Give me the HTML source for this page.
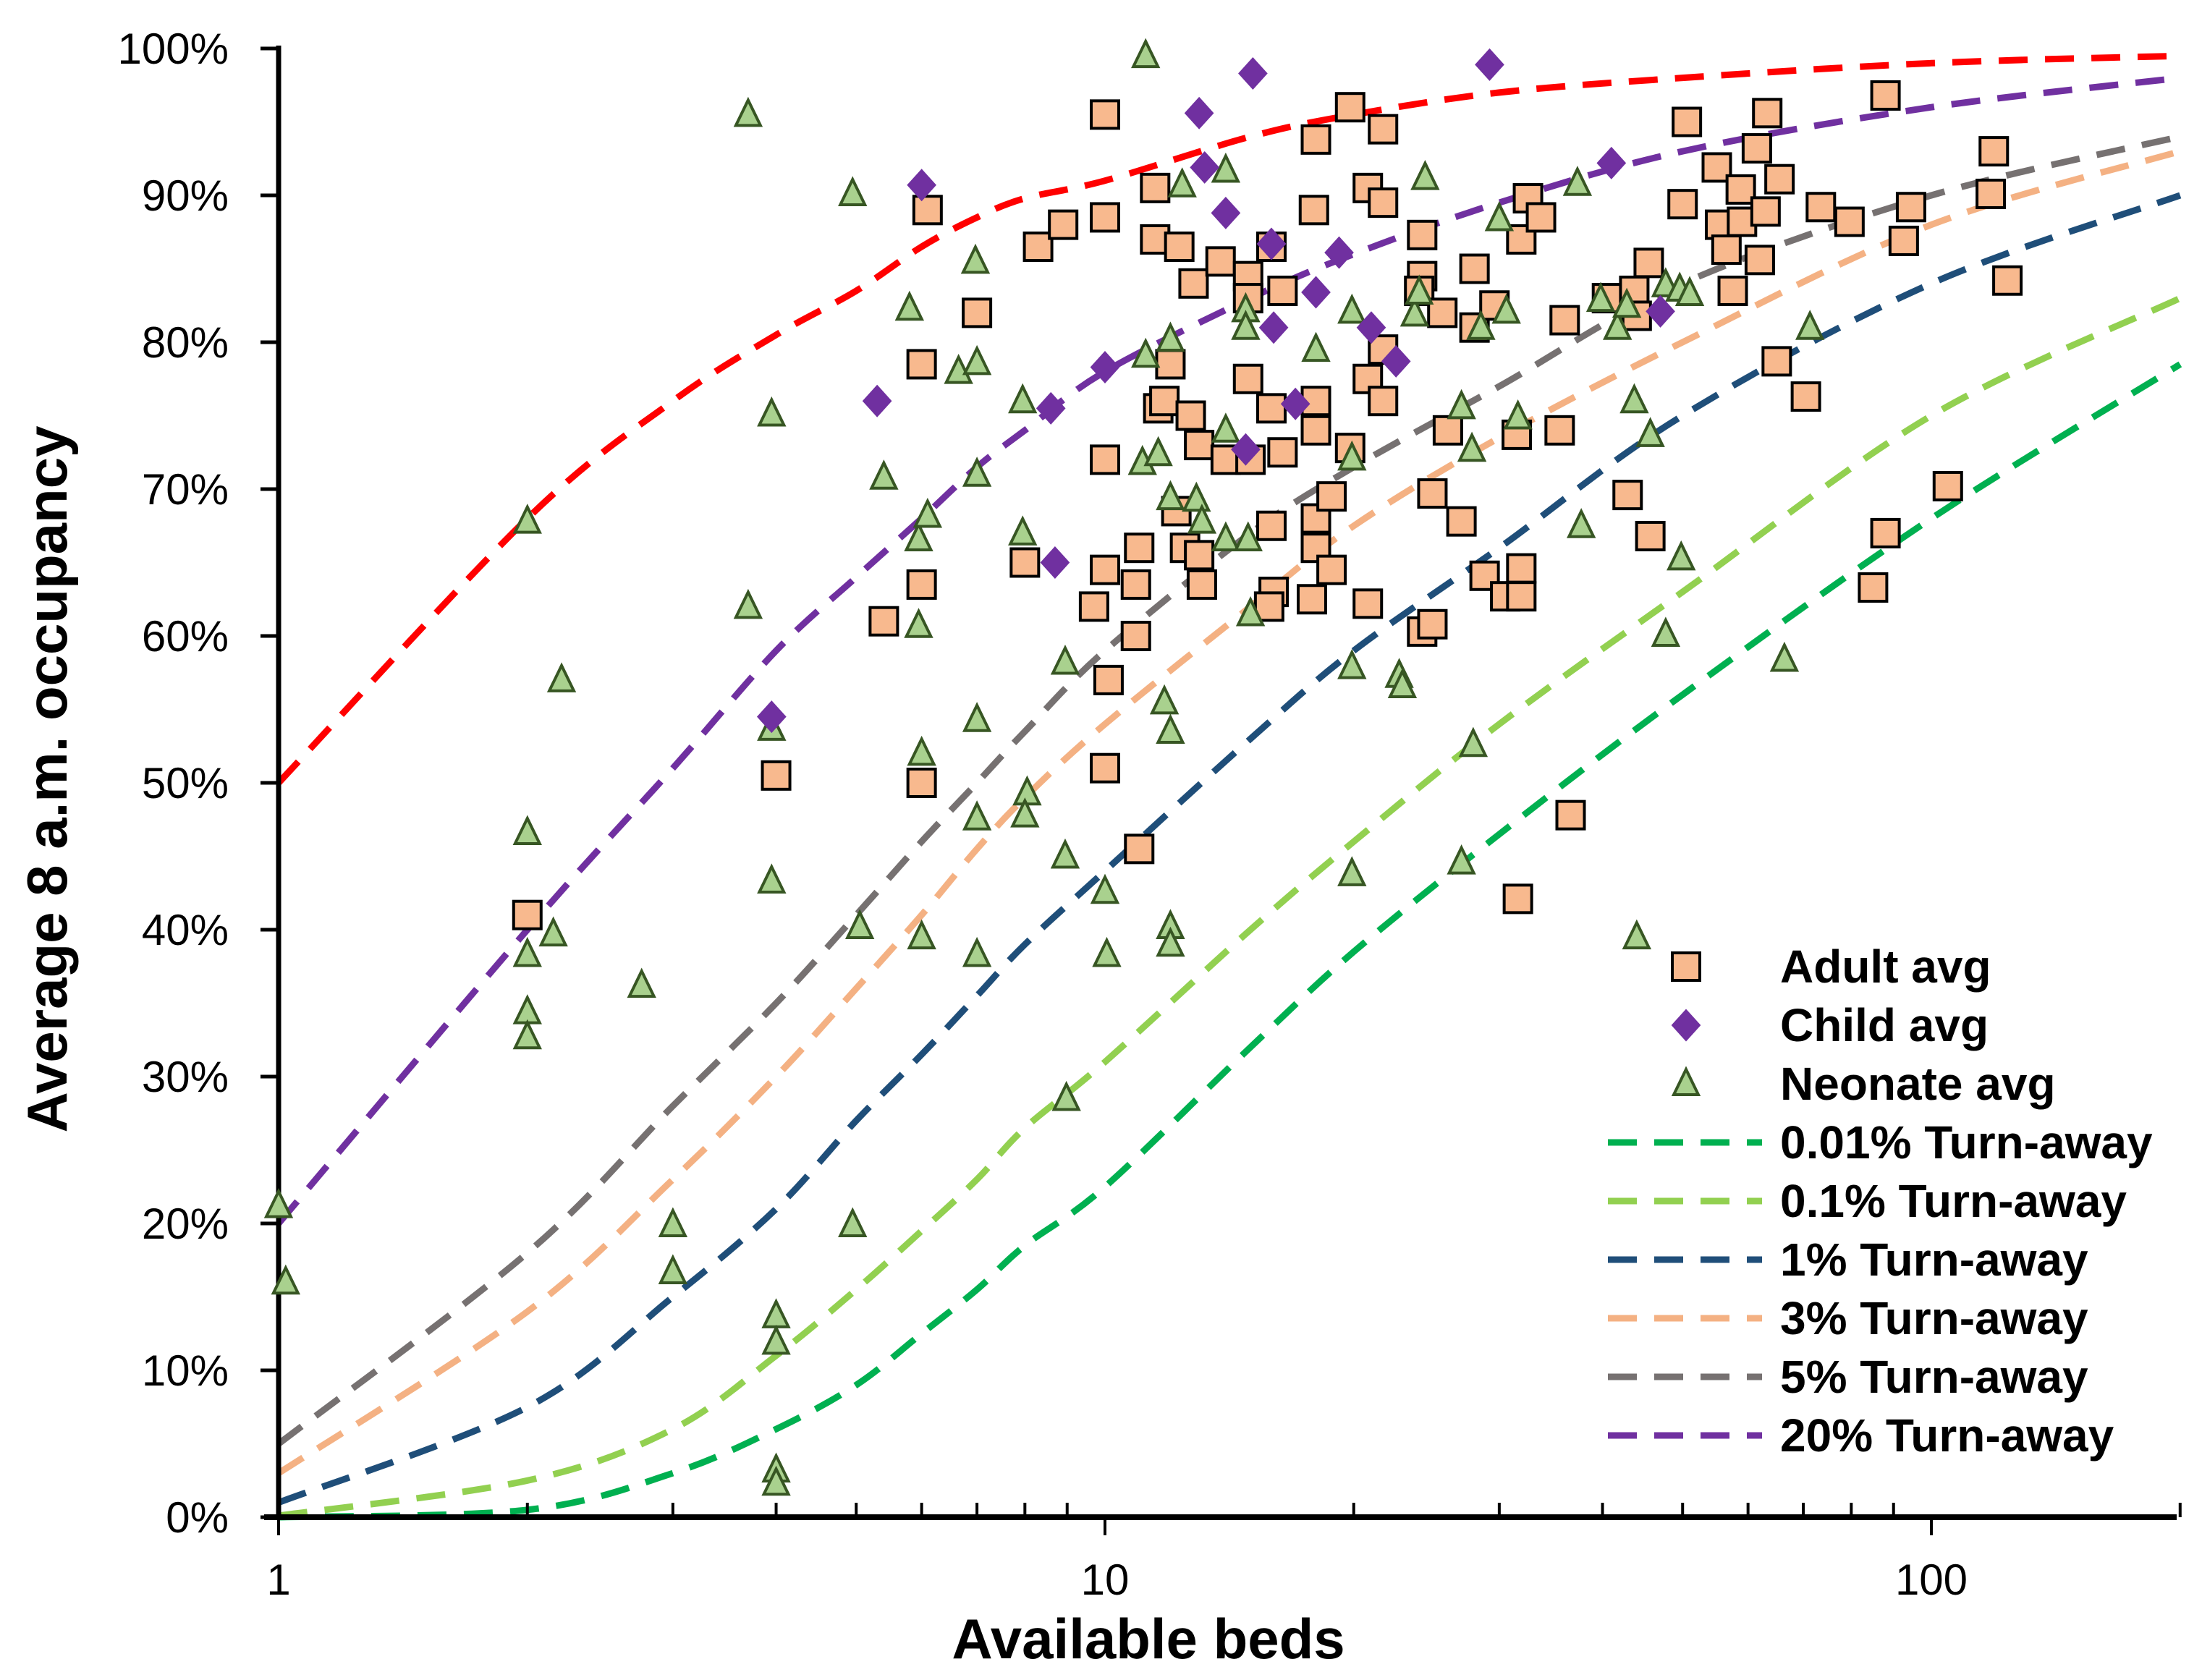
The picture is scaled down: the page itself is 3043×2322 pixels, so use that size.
<!DOCTYPE html>
<html><head><meta charset="utf-8"><style>
html,body{margin:0;padding:0;background:#fff;}
svg{display:block;font-family:"Liberation Sans",Calibri,sans-serif;}
</style></head><body>
<svg id="chart" width="3043" height="2322" viewBox="0 0 3043 2322" xmlns="http://www.w3.org/2000/svg">
<g id="curves"></g>
<g id="axes"></g>
<g id="points"></g>
<g id="legend"></g>
<text x="1587" y="2292" text-anchor="middle" font-size="78" font-weight="bold">Available beds</text>
<text transform="translate(92,1077) rotate(-90)" text-anchor="middle" font-size="78" font-weight="bold">Average 8 a.m. occupancy</text>
</svg>
<script>
const curveBeds=[1,2,3,4,5,6,7,8,10,15,20,30,50,100,200];
const curveRed=[50,68,76,80.5,83.5,86.5,88.5,89.8,91,94,95.5,97,98,99,99.5];
const curve20=[20,40,51,59,64,68,71.5,74,78,83,86,89.5,93,96,98];
const curve5=[5,18,28,35,41,46,50,53.5,59,67,71.5,77,84,90,94];
const curve3=[3,14,23,30,36,41,45.5,49,54,62,67.5,73.5,80,88,93];
const curve1=[1,7.5,15,21,27,31.5,35.5,39,44,53,59,66,75,84,90];
const curve01=[0.1,2.5,6,11,15.5,19.5,23,26.5,31,40,46,54,63,75,83];
const curve001=[0,0.5,3,6,9,12.5,15.5,18.5,22.5,32,38.5,46.5,56,68,78.5];
const yTicks=["0%","10%","20%","30%","40%","50%","60%","70%","80%","90%","100%"];
const xTicks=["1","10","100"];
const adultBeds=[2.0,4.0,5.4,6.0,6.0,6.0,6.1,7.0,8.0,8.3,8.9,10,10,10,10,9.7,10.1,10,11,10.9,10.9,11,11.5,11.5,11.6,12,11.8,12.3,12.2,12.5,12.7,12.8,13,13,13.1,13.8,14,14.9,14.9,15,14.9,15.9,15.9,15.9,16,15.8,16.4,16.4,18,17.9,18,18,18,18,17.8,18.8,18.8,19.8,19.8,20.8,20.8,20.8,21.7,21.7,21.7,21.7,24.2,24.2,24,24.9,24.2,24.9,25.6,26,27,28,28,28.8,29.6,30.5,31.5,31.9,31.9,31.9,31.6,32.5,33.7,36,35.5,36.6,40.5,42.9,43.7,44,45.5,45.7,50,50.6,55,55.5,56.5,57.5,58.8,59,61.5,62,63,63.3,65.5,65,70.5,73.5,79.6,88,92.6,94.5,88,85,104.7,119,118,123.6];
const adultOcc=[41,50.5,61,63.5,50,78.5,89,82,65,86.5,88,95.5,88.5,72,64.5,62,57,51,45.5,60,63.5,66,90.5,87,75.5,78.5,76,86.5,68.5,66,75,84,73,65.5,63.5,85.5,72,84.5,77.5,72,83,86.5,75.5,67.5,63,62,83.5,72.5,93.8,89,76,74,68,66,62.5,69.5,64.5,96,72.8,90.5,77.5,62.2,94.5,89.5,79.5,76,87.3,84.5,83.5,69.7,60.3,60.8,82,74,67.8,85,81,64.1,82.5,62.7,73.7,87,62.7,64.6,42.1,89.8,88.5,81.5,74,47.8,83,69.6,83.5,81.8,85.4,66.8,89.4,95,91.9,88,86.3,83.5,90.4,88.2,93.2,85.6,88.9,95.6,91.1,78.7,76.3,89.2,88.2,96.8,86.9,89.2,67,63.3,70.2,93,90.1,84.2];
const childBeds=[5.3,6.0,8.6,8.7,10,3.95,13,13.2,14,15.1,14.8,15.9,16,17,18,19.2,21,22.5,29.2,41,47];
const childOcc=[76,90.7,75.5,65,78.3,54.5,95.6,91.9,88.8,98.3,72.7,86.7,81,75.8,83.4,86.1,81,78.7,98.9,92.2,82.1];
const neoBeds=[1,1.02,3.7,3.7,3.95,3.95,3.95,4,4,4,4,2,2,2,2,2,2.15,2.2,2.75,3,3,4.95,5.05,4.95,5.4,5.8,5.95,6.1,5.95,6,6,6.65,6.97,7,7,7,7,7,7.95,7.95,8.05,8,8.95,8.95,8.98,10,10.05,11.2,11.2,11.1,11.6,12,11.8,12,12,12,12,12.4,12.9,13.1,14,14,14,14.8,14.8,14.9,15,18,19.9,19.9,19.9,19.9,22.7,22.9,23.7,24,24.4,27,27,27.8,27.9,28.5,30,30.6,31.6,37.3,37.7,39.8,41.7,42.8,43.7,44,45.7,47.7,47.7,49.6,49.8,51,66.4,71.3];
const neoOcc=[21.2,16,95.5,62,75.1,53.7,43.3,13.7,11.9,3.2,2.3,67.8,46.6,38.3,34.4,32.7,39.7,57,36.2,19.9,16.7,90.1,40.2,19.9,70.8,82.3,66.6,68.2,60.7,52,39.5,78,85.5,78.6,71,54.3,47.6,38.3,76,67,49.3,47.8,58.2,45,28.5,42.6,38.3,99.5,79.1,71.8,72.4,80.2,55.5,53.5,69.4,40.2,39,90.7,69.3,67.8,91.7,74,66.6,82.2,81,66.6,61.5,79.5,82.1,72.1,57.9,43.8,57.3,56.6,81.9,83.4,91.2,75.6,44.6,72.7,52.6,81,88.4,82.1,74.9,90.8,67.5,82.9,81,82.5,76,39.5,73.7,60.1,83.9,83.6,65.3,83.3,58.4,81];

const NS="http://www.w3.org/2000/svg";
const X0=385,DEC=1142,XMAX=3008,Y0=2097,YTOP=67;
function xs(b){return X0+Math.log10(b)*DEC;}
function ys(v){return Y0-(v/100)*(Y0-YTOP);}
function mk(tag,attrs,parent){const e=document.createElementNS(NS,tag);for(const k in attrs)e.setAttribute(k,attrs[k]);parent.appendChild(e);return e;}
function smooth(P){
  let d=`M${P[0][0].toFixed(1)},${P[0][1].toFixed(1)}`;
  for(let i=0;i<P.length-1;i++){
    const p0=P[Math.max(i-1,0)],p1=P[i],p2=P[i+1],p3=P[Math.min(i+2,P.length-1)];
    const c1=[p1[0]+(p2[0]-p0[0])/6,p1[1]+(p2[1]-p0[1])/6];
    const c2=[p2[0]-(p3[0]-p1[0])/6,p2[1]-(p3[1]-p1[1])/6];
    d+=` C${c1[0].toFixed(1)},${c1[1].toFixed(1)} ${c2[0].toFixed(1)},${c2[1].toFixed(1)} ${p2[0].toFixed(1)},${p2[1].toFixed(1)}`;
  }
  return d;
}

const curves=document.getElementById('curves');
const cdefs=[[curve001,'#00b050','curve-0.01pct'],[curve01,'#92d050','curve-0.1pct'],[curve1,'#1f4e79','curve-1pct'],[curve3,'#f4b183','curve-3pct'],[curve5,'#767171','curve-5pct'],[curve20,'#7030a0','curve-20pct'],[curveRed,'#ff0000','curve-red']];
cdefs.forEach(c=>{
  const P=curveBeds.map((b,i)=>[xs(b),ys(c[0][i])]);
  const p=mk('path',{d:smooth(P),fill:'none',stroke:c[1],'stroke-width':9,'stroke-dasharray':'40 24','stroke-linejoin':'round'},curves);
  
  
});

const axes=document.getElementById('axes');
mk('line',{x1:X0,y1:YTOP-4,x2:X0,y2:Y0+4,stroke:'#000','stroke-width':7},axes);
mk('line',{x1:X0-20,y1:Y0,x2:XMAX,y2:Y0,stroke:'#000','stroke-width':8},axes);
yTicks.forEach((t,i)=>{
  const y=ys(i*10);
  mk('line',{x1:X0-25,y1:y,x2:X0,y2:y,stroke:'#000','stroke-width':5},axes);
  const tx=mk('text',{x:316,y:y+21,'text-anchor':'end','font-size':60},axes);
  tx.textContent=t;
  
  
});
xTicks.forEach((t,i)=>{
  const x=xs(Math.pow(10,i));
  mk('line',{x1:x,y1:Y0,x2:x,y2:Y0+25,stroke:'#000','stroke-width':4},axes);
  const tx=mk('text',{x:x,y:2204,'text-anchor':'middle','font-size':60},axes);
  tx.textContent=t;
  
  
});
for(let d=0;d<3;d++){for(let m=1;m<=10;m++){const b=m*Math.pow(10,d);if(b>200||b===1||b===10||b===100)continue;const x=xs(b);mk('line',{x1:x,y1:Y0-20,x2:x,y2:Y0,stroke:'#000','stroke-width':4},axes);}}

const pts=document.getElementById('points');
function square(x,y,g){return mk('rect',{x:x-19,y:y-19,width:38,height:38,fill:'#f8b98e',stroke:'#000','stroke-width':4},g);}
function diamond(x,y,g){return mk('polygon',{points:`${x},${y-21} ${x+19},${y} ${x},${y+21} ${x-19},${y}`,fill:'#7030a0',stroke:'#7030a0','stroke-width':2},g);}
function tri(x,y,g){return mk('polygon',{points:`${x},${y-20} ${x+17},${y+15} ${x-17},${y+15}`,fill:'#a9d18e',stroke:'#375623','stroke-width':4},g);}
adultBeds.forEach((b,i)=>{const e=square(xs(b),ys(adultOcc[i]),pts);
  
  });
neoBeds.forEach((b,i)=>{const e=tri(xs(b),ys(neoOcc[i]),pts);
  
  });
childBeds.forEach((b,i)=>{const e=diamond(xs(b),ys(childOcc[i]),pts);
  
  });

const leg=document.getElementById('legend');
const legLabels=['Adult avg','Child avg','Neonate avg','0.01% Turn-away','0.1% Turn-away','1% Turn-away','3% Turn-away','5% Turn-away','20% Turn-away'];
const legColors=['#00b050','#92d050','#1f4e79','#f4b183','#767171','#7030a0'];
legLabels.forEach((t,i)=>{
  const y=1336+i*81;
  const g=mk('g',{},leg);
  
  
  if(i===0)square(2330,y,g);
  else if(i===1)diamond(2330,y,g);
  else if(i===2)tri(2330,y,g);
  else mk('line',{x1:2222,y1:y,x2:2435,y2:y,stroke:legColors[i-3],'stroke-width':9,'stroke-dasharray':'40 24'},g);
  const tx=mk('text',{x:2460,y:y+22,'font-size':64,'font-weight':'bold'},g);
  tx.textContent=t;
});
</script>
</body></html>
